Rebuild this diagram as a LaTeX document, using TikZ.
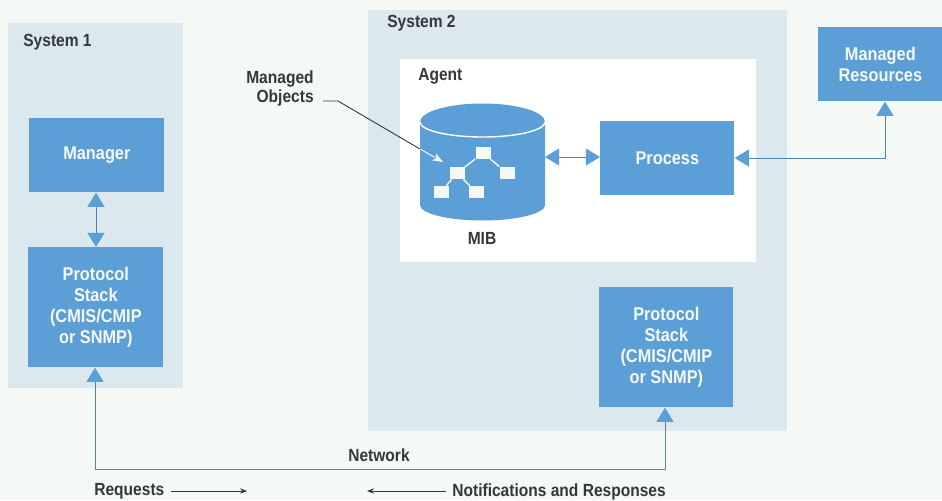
\documentclass[tikz,border=0pt]{standalone}
\usepackage{fontspec}
\setmainfont{Liberation Sans}[FakeStretch=0.885]
\usetikzlibrary{arrows.meta}
\definecolor{paper}{HTML}{F5F9F5}
\definecolor{panel}{HTML}{DBE8EE}
\definecolor{boxblue}{HTML}{5B9FD6}
\definecolor{inkgrey}{HTML}{33383C}
\tikzset{
    blockbox/.style={fill=boxblue,text=paper,font=\bfseries\fontsize{10.5}{12}\selectfont,align=center,inner sep=0pt,anchor=north west},
    tag/.style={text=inkgrey,font=\bfseries\fontsize{10}{10.8}\selectfont,inner sep=0pt},
    bluetip/.tip={Triangle[color=boxblue,length=8pt,width=9.6pt]},
    link/.style={draw=boxblue!75!inkgrey,line width=.55pt,{bluetip}-{bluetip}},
    uplink/.style={draw=boxblue!75!inkgrey,line width=.55pt,-{bluetip}},
    flow/.style={draw=inkgrey,line width=.4pt,-{Stealth[length=4pt,width=3pt]}},
    treebox/.style={fill=paper,minimum width=.3cm,minimum height=.24cm,inner sep=0pt}
}
\begin{document}
\begin{tikzpicture}[x=.02cm,y=-.02cm]
\useasboundingbox (0,0) rectangle (942,500);
\fill[paper] (0,0) rectangle (942,500);
% panels
\fill[panel] (8,23) rectangle (183,388);
\fill[panel] (368,10) rectangle (787,431);
\fill[white] (400,59) rectangle (756,262);
% blocks
\foreach \x/\y/\w/\h/\p/\labeltext in {29/118/135/74/manager/{Manager}, 28/247/135/120/stackone/{Protocol\\Stack\\(CMIS/CMIP\\or SNMP)}, 600/121/134/74/process/{Process}, 599/287/134/120/stacktwo/{Protocol\\Stack\\(CMIS/CMIP\\or SNMP)}, 818/27/124/74/resources/{Managed\\Resources}}{
    \node[blockbox,minimum width=\w*.02cm,minimum height=\h*.02cm] (\p) at (\x,\y) {\labeltext};
}
% MIB
\fill[boxblue] (420,122) -- (420,205) arc[start angle=180,end angle=360,x radius=62.5,y radius=-15.5] -- (545,122) arc[start angle=0,end angle=180,x radius=62.5,y radius=-18.5] -- cycle;
\draw[white,line width=.8pt] (420,122) arc[start angle=180,end angle=360,x radius=62.5,y radius=-15];
\coordinate (mibeast) at (545,157);
\foreach \x/\y/\p in {483/153/treetop, 457/173/treemid, 507/173/treeright, 441/192/treeleft, 476/192/treelow}{
    \node[treebox] (\p) at (\x,\y) {};
}
\draw[paper,line width=.8pt] (treetop)--(treemid) (treetop)--(treeright) (treemid)--(treeleft) (treemid)--(treelow);
\node[tag] (mib) at (482,238) {MIB};
% connectors
\draw[link] (manager.south-|96,0)--(stackone.north-|96,0);
\draw[link] (mibeast)--(process.west|-mibeast);
\coordinate (bend) at (885,158);
\draw[link] (process.east|-bend)--(bend)--(resources.south-|bend);
\coordinate (netleft) at (95,469);
\coordinate (netright) at (665,469);
\draw[uplink] (netleft)--(stackone.south-|netleft);
\draw[uplink] (netleft)--(netright)--(stacktwo.south-|netright);
% labels
\node[tag,anchor=west] (sysone) at (23,42) {System 1};
\node[tag,anchor=west] (systwo) at (387,23) {System 2};
\node[tag,anchor=west] (agent) at (418,76) {Agent};
\node[tag,anchor=east,align=right] (objects) at (314,88) {Managed\\Objects};
\node[tag] (network) at (379,455) {Network};
\node[tag,anchor=west] (requests) at (94,491) {Requests};
\node[tag,anchor=west] (notif) at (452,492) {Notifications and Responses};
\coordinate (reqend) at (247,491);
\coordinate (notifend) at (367,491);
\coordinate (kink) at (338,101);
\coordinate (objin) at (420,149);
\coordinate (objtip) at (443,162);
\draw[flow] (171,491)--(reqend);
\draw[flow] (446,491)--(notifend);
\draw[inkgrey,line width=.5pt] (323,101)--(kink)--(objin);
\draw[white,line width=.5pt,-{Stealth[length=6pt,width=4.5pt,fill=white]}] (objin)--(objtip);
\end{tikzpicture}
\end{document}
